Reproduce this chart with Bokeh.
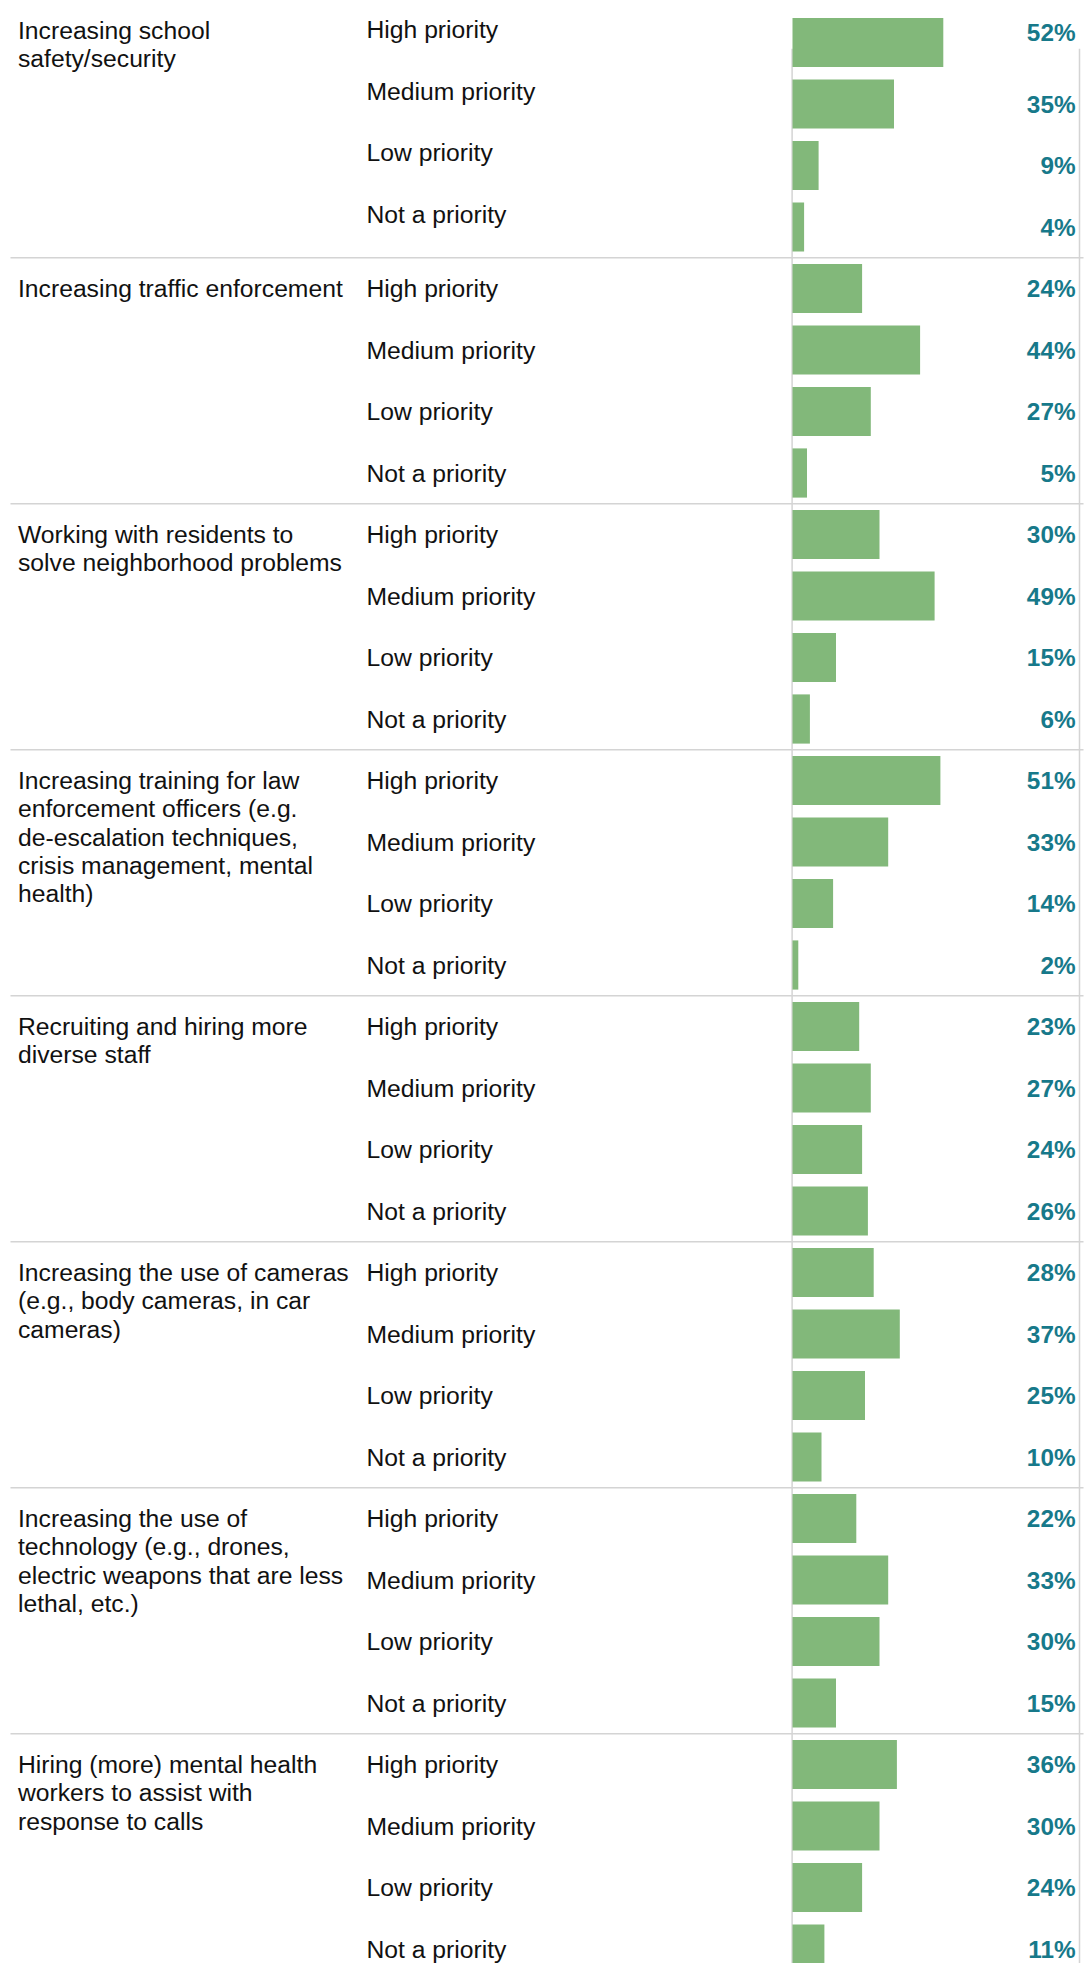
from bokeh.plotting import figure
from bokeh.models import ColumnDataSource, Range1d
from bokeh.embed import file_html
from bokeh.resources import INLINE
from bokeh.core.properties import value

# ---------------- data ----------------
category_lines = [
    ["Increasing school", "safety/security"],
    ["Increasing traffic enforcement"],
    ["Working with residents to", "solve neighborhood problems"],
    ["Increasing training for law", "enforcement officers (e.g.", "de-escalation techniques,",
     "crisis management, mental", "health)"],
    ["Recruiting and hiring more", "diverse staff"],
    ["Increasing the use of cameras", "(e.g., body cameras, in car", "cameras)"],
    ["Increasing the use of", "technology (e.g., drones,", "electric weapons that are less",
     "lethal, etc.)"],
    ["Hiring (more) mental health", "workers to assist with", "response to calls"],
]
priorities = ["High priority", "Medium priority", "Low priority", "Not a priority"]
high_priority = [52, 24, 30, 51, 23, 28, 22, 36]
medium_priority = [35, 44, 49, 33, 27, 37, 33, 30]
low_priority = [9, 27, 15, 14, 24, 25, 30, 24]
not_a_priority = [4, 5, 6, 2, 26, 10, 15, 11]

# ---------------- layout constants ----------------
W, H = 1085, 1963
PX = 2.9          # pixels per percent
ORIGIN = 792      # pixel position of bar origin
ROW = 61.5        # pixels per row
TOP = 42          # pixel position of first row centre
LINE_H = 28.3     # wrapped label line height (px)
FIRST_SHIFT = -13 # the first panel's header labels sit a little higher
FONT = "Liberation Sans"
GREEN = "#82b87a"
TEAL = "#17798a"
GRID = "#d4d4d4"
TEXT = "#111111"

x_start = -ORIGIN / PX
x_end = (W - ORIGIN) / PX
y_top = -TOP / ROW
y_bottom = y_top + H / ROW

# ---------------- sources ----------------
series = [high_priority, medium_priority, low_priority, not_a_priority]
ys, vals, prios, labels, poff, loff = [], [], [], [], [], []
for g in range(len(category_lines)):
    for r, s in enumerate(series):
        ys.append(g * 4 + r)
        vals.append(s[g])
        prios.append(priorities[r])
        labels.append(f"{s[g]}%")
        poff.append(FIRST_SHIFT if g == 0 else 0)
        loff.append(FIRST_SHIFT + 3 if (g == 0 and r == 0) else 0)
bars = ColumnDataSource(dict(y=ys, v=vals, priority=prios, label=labels,
                             poff=poff, loff=loff))

cy, coff, ctext = [], [], []
for g, lines in enumerate(category_lines):
    for k, line in enumerate(lines):
        cy.append(g * 4)
        coff.append(k * LINE_H + (FIRST_SHIFT + 1 if g == 0 else 0))
        ctext.append(line)
cats = ColumnDataSource(dict(y=cy, off=coff, text=ctext))

sep_y = [g * 4 - 0.5 for g in range(1, len(category_lines))]

# ---------------- figure ----------------
p = figure(width=W, height=H,
           x_range=Range1d(x_start, x_end), y_range=Range1d(y_bottom, y_top),
           x_axis_type=None, y_axis_type=None,
           output_backend="svg", toolbar_location=None, min_border=0)
p.grid.visible = False
p.outline_line_color = None
p.background_fill_color = "white"
p.border_fill_color = "white"

# separators between groups
p.segment(x0=x_start + 10 / PX, x1=x_end - 2 / PX, y0=sep_y, y1=sep_y,
          line_color=GRID, line_width=1.6)
# pane border lines
rx = x_end - 6 / PX
p.segment(x0=[-0.4 / PX, rx], x1=[-0.4 / PX, rx],
          y0=[0.1, 0.1], y1=[y_bottom, y_bottom],
          line_color=GRID, line_width=1.5)

# bars
p.hbar(y="y", left=0, right="v", height=0.8, source=bars,
       fill_color=GREEN, line_color=None)

# priority labels
p.text(x=x_start, y="y", text="priority", source=bars, x_offset=366, y_offset="poff",
       text_align="left", text_baseline="middle",
       text_font=value(FONT), text_font_size="24.7px", text_color=TEXT)

# value labels
p.text(x=x_end, y="y", text="label", source=bars, x_offset=-10, y_offset="loff",
       text_align="right", text_baseline="middle",
       text_font=value(FONT), text_font_size="24.3px", text_font_style="bold",
       text_color=TEAL)

# category labels
p.text(x=x_start, y="y", text="text", source=cats, x_offset=17.5, y_offset="off",
       text_align="left", text_baseline="middle",
       text_font=value(FONT), text_font_size="24.7px", text_color=TEXT)

open("out.html", "w").write(file_html(p, INLINE))
